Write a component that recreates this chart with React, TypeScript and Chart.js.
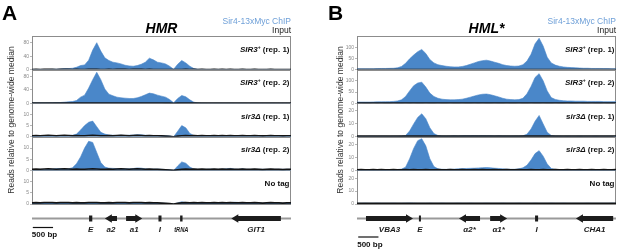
import React, { useEffect, useRef } from "react";
import { Chart, registerables } from "chart.js";

Chart.register(...registerables);

const FONT = '"Liberation Sans", Arial, Helvetica, sans-serif';
const BLUE = "#4a87c9";
const LEGEND_BLUE = "#6fa0d8";

// genomic bins (bp), 100 bp per bin
const BIN_BP = 100;
const POSITIONS_BP = Array.from({ length: 65 }, (_, i) => i * BIN_BP);

// ---------- HMR (panel A) ----------
const HMR_SIR3_REP1 = [
  0.5, 0.5, 0.6, 0.5, 0.6, 1, 1.2, 2, 3, 3, 4, 7, 12, 14, 28, 58, 80, 55, 35, 27,
  22, 20, 17, 13, 11, 10, 12, 16, 22, 34, 29, 22, 20, 17, 10, 1, 16, 27, 20, 10,
  3, 1, 0.6, 0.5, 0.5, 0.5, 0.6, 0.5, 0.5, 0.5, 0.5, 0.5, 0.6, 0.5, 0.5, 0.5, 0.5, 0.5, 0.6, 0.5,
  0.5, 0.5, 0.5, 0.5, 0.5,
];
const HMR_SIR3_REP2 = [
  1, 1, 1, 1, 1.5, 1.5, 2, 2, 3, 4, 5, 8, 18, 24, 45, 70, 92, 70, 42, 27,
  22, 18, 16, 15, 14, 14, 16, 20, 25, 30, 28, 24, 21, 18, 11, 1, 14, 23, 19, 10,
  3, 1, 0.6, 0.5, 0.5, 0.5, 0.6, 0.5, 0.5, 0.6, 0.5, 0.5, 0.6, 0.5, 0.5, 0.6, 0.5, 0.5, 0.5, 0.6,
  0.5, 0.5, 0.5, 0.5, 0.5,
];
const HMR_SIR3D_REP1 = [
  0.4, 0.4, 0.5, 0.4, 0.4, 0.5, 0.5, 0.6, 0.5, 0.6, 0.7, 1.2, 3, 5, 6.5, 7, 4.5, 2, 1.2, 0.8,
  0.7, 0.6, 0.7, 0.6, 0.7, 0.8, 0.9, 0.9, 0.7, 0.6, 0.6, 0.6, 0.5, 0.5, 0.4, 0, 2.5, 5, 4, 1.5,
  0.6, 0.5, 0.5, 0.6, 0.5, 0.5, 0.5, 0.5, 0.6, 0.5, 0.5, 0.6, 0.5, 0.5, 0.5, 0.5, 0.5, 0.6, 0.5, 0.5,
  0.5, 0.5, 0.5, 0.5, 0.5,
];
const HMR_SIR3D_REP2 = [
  0.4, 0.4, 0.5, 0.4, 0.5, 0.6, 0.8, 0.8, 0.7, 0.7, 1.2, 3, 6, 10, 13, 12.5, 8, 3.5, 1.5, 1.0,
  0.9, 0.8, 0.8, 0.7, 0.7, 0.8, 1.1, 1.0, 0.7, 0.6, 0.6, 0.6, 0.5, 0.4, 0.3, 0, 2, 3.8, 3.2, 1.5,
  0.6, 0.5, 0.5, 0.5, 0.6, 0.5, 0.5, 0.6, 0.7, 0.9, 0.6, 0.5, 0.7, 0.5, 0.5, 0.5, 0.5, 0.5, 0.5, 0.5,
  0.5, 0.5, 0.5, 0.5, 0.5,
];
const HMR_NOTAG = [
  0.4, 0.4, 0.4, 0.5, 0.4, 0.4, 0.5, 0.4, 0.4, 0.4, 0.4, 0.5, 0.5, 0.5, 0.4, 0.4, 0.4, 0.4, 0.4, 0.4,
  0.4, 0.4, 0.5, 0.4, 0.4, 0.4, 0.5, 0.4, 0.4, 0.4, 0.4, 0.4, 0.4, 0.3, 0.2, 0, 0.5, 1.0, 0.7, 0.4,
  0.4, 0.4, 0.4, 0.4, 0.4, 0.4, 0.4, 0.4, 0.5, 0.6, 0.8, 0.7, 0.5, 0.4, 0.4, 0.4, 0.4, 0.4, 0.4, 0.4,
  0.4, 0.4, 0.4, 0.4, 0.4,
];
const HMR_INPUT = [
  0.5, 0.6, 0.5, 0.6, 0.7, 0.6, 0.5, 0.6, 0.7, 0.6, 0.5, 0.6, 0.5, 0.5, 0.6, 0.7, 0.6, 0.5, 0.5, 0.6,
  0.5, 0.6, 0.7, 0.6, 0.5, 0.6, 0.7, 0.6, 0.5, 0.6, 0.5, 0.5, 0.4, 0.3, 0.2, 0, 0.3, 0.5, 0.6, 0.5,
  0.6, 0.5, 0.6, 0.5, 0.5, 0.6, 0.5, 0.6, 0.5, 0.6, 0.5, 0.5, 0.6, 0.5, 0.5, 0.6, 0.5, 0.4, 0.5, 0.6,
  0.5, 0.5, 0.4, 0.5, 0.5,
];
const HMR_MAX = [100, 100, 15, 15, 15];
const HMR_TICKS_HIGH = [0, 40, 80];
const HMR_TICKS_LOW = [0, 5, 10];
// [name, start bp, end bp, strand]
const HMR_GENES: [string, number, number, number][] = [
  ["E", 1410, 1490, 0],
  ["a2", 1800, 2100, -1],
  ["a1", 2325, 2725, 1],
  ["I", 3125, 3200, 0],
  ["tRNA", 3660, 3720, 0],
  ["GIT1", 4925, 6150, -1],
];
const HMR_SCALE_BAR = [20, 520];

// ---------- HML* (panel B) ----------
const HML_SIR3_REP1 = [
  4, 4, 4, 4, 4, 4.5, 5, 5, 5.5, 6, 8, 14, 28, 48, 65, 80, 90, 72, 45, 30,
  22, 18, 15, 13, 12, 12, 14, 18, 24, 30, 36, 40, 42, 38, 33, 28, 22, 18, 16, 15,
  16, 22, 38, 68, 115, 140, 105, 55, 30, 20, 15, 12, 10, 9, 8, 7, 6, 6, 5, 5,
  5, 4.5, 4.5, 4, 4,
];
const HML_SIR3_REP2 = [
  5, 5, 5, 5, 5.5, 6, 6, 6.5, 7, 8, 10, 15, 30, 55, 78, 90, 94, 72, 45, 30,
  22, 18, 16, 15, 15, 16, 18, 22, 27, 32, 37, 40, 41, 38, 33, 28, 22, 18, 16, 15,
  16, 22, 42, 75, 115, 132, 100, 55, 25, 17, 13, 11, 10, 10, 9, 9, 9, 8, 8, 8,
  8, 7, 7, 7, 7,
];
const HML_SIR3D_REP1 = [
  0.4, 0.5, 0.4, 0.5, 0.5, 0.4, 0.5, 0.5, 0.4, 0.5, 0.5, 0.6, 1, 4.5, 10, 15, 17.8, 14, 7, 2.5,
  1, 0.7, 0.6, 0.7, 0.8, 0.7, 0.8, 0.9, 0.8, 0.9, 0.8, 0.9, 0.8, 0.8, 0.7, 0.8, 0.7, 0.7, 0.6, 0.7,
  0.7, 0.8, 2, 6, 12, 16.5, 10, 3.5, 1, 0.7, 0.6, 0.5, 0.6, 0.5, 0.5, 0.6, 0.5, 0.5, 0.5, 0.6,
  0.5, 0.5, 0.5, 0.5, 0.5,
];
const HML_SIR3D_REP2 = [
  0.5, 0.5, 0.6, 0.5, 0.5, 0.6, 0.5, 0.5, 0.6, 0.6, 0.7, 1, 2.5, 9, 17, 23, 24.5, 19, 9, 3,
  1.2, 0.9, 0.8, 0.9, 1, 1.2, 1.4, 1.5, 1.6, 1.7, 1.9, 2.1, 2.2, 2.0, 1.7, 1.5, 1.2, 1.0, 0.9, 0.9,
  1.2, 2, 4, 8, 13, 15.3, 11, 5, 1.5, 0.8, 0.6, 0.5, 0.5, 0.6, 0.5, 0.5, 0.5, 0.6, 0.5, 0.5,
  0.5, 0.5, 0.5, 0.5, 0.5,
];
const HML_NOTAG = [
  0.6, 0.6, 0.7, 0.6, 0.6, 0.7, 0.6, 0.6, 0.6, 0.7, 0.6, 0.6, 0.7, 0.8, 0.7, 0.6, 0.6, 0.6, 0.7, 0.6,
  0.6, 0.7, 0.6, 0.6, 0.6, 0.7, 0.6, 0.6, 0.7, 0.6, 0.6, 0.6, 0.7, 0.6, 0.6, 0.6, 0.7, 0.6, 0.6, 0.6,
  0.7, 0.6, 0.6, 0.6, 0.7, 0.6, 0.6, 0.6, 0.7, 0.6, 0.6, 0.7, 0.6, 0.6, 0.6, 0.6, 0.6, 0.7, 0.6, 0.6,
  0.6, 0.6, 0.6, 0.7, 0.6,
];
const HML_INPUT = [
  0.5, 0.6, 0.5, 0.5, 0.6, 0.5, 0.6, 0.5, 0.5, 0.6, 0.5, 0.5, 0.6, 0.5, 0.6, 0.5, 0.5, 0.6, 0.5, 0.5,
  0.6, 0.5, 0.5, 0.6, 0.5, 0.5, 0.6, 0.5, 0.5, 0.6, 0.5, 0.6, 0.5, 0.5, 0.6, 0.5, 0.5, 0.6, 0.5, 0.5,
  0.6, 0.5, 0.5, 0.6, 0.5, 0.5, 0.6, 0.5, 0.5, 0.6, 0.5, 0.5, 0.6, 0.5, 0.5, 0.6, 0.5, 0.5, 0.6, 0.5,
  0.5, 0.6, 0.5, 0.5, 0.6,
];
const HML_MAX = [150, 150, 26, 26, 26];
const HML_TICKS_HIGH = [0, 50, 100];
const HML_TICKS_LOW = [0, 10, 20];
const HML_GENES: [string, number, number, number][] = [
  ["VBA3", 222, 1384, 1],
  ["E", 1530, 1580, 0],
  ["α2*", 2520, 3040, -1],
  ["α1*", 3290, 3710, 1],
  ["I", 4400, 4475, 0],
  ["CHA1", 5410, 6330, -1],
];
const HML_SCALE_BAR = [30, 530];

// ---------- text ----------
type Seg = { t: string; f: string; dy?: number };
const F_B = `bold 8px ${FONT}`;
const F_BI = `italic bold 8px ${FONT}`;
const F_SUP = `bold 5px ${FONT}`;
const TRACK_LABELS: Seg[][] = [
  [{ t: "SIR3", f: F_BI }, { t: "+", f: F_SUP, dy: -3 }, { t: " (rep. 1)", f: F_B }],
  [{ t: "SIR3", f: F_BI }, { t: "+", f: F_SUP, dy: -3 }, { t: " (rep. 2)", f: F_B }],
  [{ t: "sir3Δ", f: F_BI }, { t: " (rep. 1)", f: F_B }],
  [{ t: "sir3Δ", f: F_BI }, { t: " (rep. 2)", f: F_B }],
  [{ t: "No tag", f: F_B }],
];
// narrower rendering for some feature labels (condensed type in the original)
const LABEL_STRETCH: Record<string, number> = { tRNA: 0.72 };

interface PanelSpec {
  letter: string;
  letterX: number;
  title: string;
  chip: number[][];
  input: number[];
  maxes: number[];
  ticks: number[][];
  genes: [string, number, number, number][];
  scaleBar: number[];
  scaleBarY: number;
  scaleTextY: number;
  yTitleX: number;
  padding: { left: number; right: number; top: number; bottom: number };
  left: number;
  width: number;
}

const PANELS: PanelSpec[] = [
  {
    letter: "A",
    letterX: 2,
    title: "HMR",
    chip: [HMR_SIR3_REP1, HMR_SIR3_REP2, HMR_SIR3D_REP1, HMR_SIR3D_REP2, HMR_NOTAG],
    input: HMR_INPUT,
    maxes: HMR_MAX,
    ticks: [HMR_TICKS_HIGH, HMR_TICKS_HIGH, HMR_TICKS_LOW, HMR_TICKS_LOW, HMR_TICKS_LOW],
    genes: HMR_GENES,
    scaleBar: HMR_SCALE_BAR,
    scaleBarY: 227.5,
    scaleTextY: 237,
    yTitleX: 12,
    padding: { left: 0, right: 17, top: 36, bottom: 46 },
    left: 0,
    width: 308,
  },
  {
    letter: "B",
    letterX: 20,
    title: "HML*",
    chip: [HML_SIR3_REP1, HML_SIR3_REP2, HML_SIR3D_REP1, HML_SIR3D_REP2, HML_NOTAG],
    input: HML_INPUT,
    maxes: HML_MAX,
    ticks: [HML_TICKS_HIGH, HML_TICKS_HIGH, HML_TICKS_LOW, HML_TICKS_LOW, HML_TICKS_LOW],
    genes: HML_GENES,
    scaleBar: HML_SCALE_BAR,
    scaleBarY: 237,
    scaleTextY: 247,
    yTitleX: 33,
    padding: { left: 17, right: 1, top: 36, bottom: 46 },
    left: 308,
    width: 309,
  },
];

function drawRich(ctx: CanvasRenderingContext2D, segs: Seg[], rightX: number, y: number) {
  let total = 0;
  const widths = segs.map((s) => {
    ctx.font = s.f;
    const w = ctx.measureText(s.t).width;
    total += w;
    return w;
  });
  let x = rightX - total;
  ctx.textAlign = "left";
  ctx.textBaseline = "alphabetic";
  segs.forEach((s, i) => {
    ctx.font = s.f;
    ctx.fillText(s.t, x, y + (s.dy || 0));
    x += widths[i];
  });
}

function drawGene(ctx: CanvasRenderingContext2D, x1: number, x2: number, y: number, strand: number) {
  const bodyH = 2.5;
  const headH = 4.2;
  const headL = 7;
  ctx.beginPath();
  if (strand === 1) {
    const hx = Math.max(x1, x2 - headL);
    ctx.moveTo(x1, y - bodyH);
    ctx.lineTo(hx, y - bodyH);
    ctx.lineTo(hx, y - headH);
    ctx.lineTo(x2, y);
    ctx.lineTo(hx, y + headH);
    ctx.lineTo(hx, y + bodyH);
    ctx.lineTo(x1, y + bodyH);
    ctx.closePath();
  } else if (strand === -1) {
    const hx = Math.min(x2, x1 + headL);
    ctx.moveTo(x2, y - bodyH);
    ctx.lineTo(hx, y - bodyH);
    ctx.lineTo(hx, y - headH);
    ctx.lineTo(x1, y);
    ctx.lineTo(hx, y + headH);
    ctx.lineTo(hx, y + bodyH);
    ctx.lineTo(x2, y + bodyH);
    ctx.closePath();
  } else {
    ctx.rect(x1, y - 3, Math.max(1.3, x2 - x1), 6);
  }
  ctx.fill();
}

function makeDecor(spec: PanelSpec) {
  return {
    id: "decor",
    beforeDatasetsDraw(chart: any) {
      const ctx = chart.ctx as CanvasRenderingContext2D;
      const area = chart.chartArea;
      ctx.save();
      ctx.strokeStyle = "#8c8c8c";
      ctx.lineWidth = 1;
      spec.chip.forEach((_, i) => {
        const s = chart.scales["y" + i];
        ctx.strokeRect(area.left + 0.5, Math.round(s.top) + 0.5, area.right - area.left - 1, Math.round(s.bottom) - Math.round(s.top));
      });
      ctx.restore();
    },
    afterDraw(chart: any) {
      const ctx = chart.ctx as CanvasRenderingContext2D;
      const area = chart.chartArea;
      const xs = chart.scales.x;
      ctx.save();
      // panel letter
      ctx.fillStyle = "#000";
      ctx.font = `bold 21px ${FONT}`;
      ctx.textAlign = "left";
      ctx.textBaseline = "alphabetic";
      ctx.fillText(spec.letter, spec.letterX, 20);
      // title
      ctx.font = `italic bold 14px ${FONT}`;
      ctx.textAlign = "center";
      ctx.fillText(spec.title, (area.left + area.right) / 2, 32.5);
      // legend
      ctx.font = `8.5px ${FONT}`;
      ctx.textAlign = "right";
      ctx.fillStyle = LEGEND_BLUE;
      ctx.fillText("Sir4-13xMyc ChIP", area.right, 23.5);
      ctx.fillStyle = "#222";
      ctx.fillText("Input", area.right, 32.5);
      // track labels
      ctx.fillStyle = "#111";
      TRACK_LABELS.forEach((segs, i) => {
        const s = chart.scales["y" + i];
        drawRich(ctx, segs, area.right - 1.5, s.top + 15.5);
      });
      // y title
      ctx.save();
      ctx.translate(spec.yTitleX, (area.top + area.bottom) / 2);
      ctx.rotate(-Math.PI / 2);
      ctx.font = `8.5px ${FONT}`;
      ctx.fillStyle = "#333";
      ctx.textAlign = "center";
      ctx.textBaseline = "middle";
      ctx.fillText("Reads relative to genome-wide median", 0, 0);
      ctx.restore();
      // gene track
      const gy = 218.5;
      ctx.strokeStyle = "#9a9a9a";
      ctx.lineWidth = 2;
      ctx.beginPath();
      ctx.moveTo(area.left, gy);
      ctx.lineTo(area.right, gy);
      ctx.stroke();
      ctx.fillStyle = "#1c1c1c";
      spec.genes.forEach(([name, start, end, strand]) => {
        const x1 = xs.getPixelForValue(start);
        const x2 = xs.getPixelForValue(end);
        drawGene(ctx, x1, x2, gy, strand);
        ctx.save();
        ctx.font = `italic bold 8px ${FONT}`;
        ctx.textAlign = "center";
        ctx.textBaseline = "alphabetic";
        ctx.translate((x1 + x2) / 2, 231.5);
        ctx.scale(LABEL_STRETCH[name] || 1, 1);
        ctx.fillText(name, 0, 0);
        ctx.restore();
      });
      // scale bar
      const b1 = xs.getPixelForValue(spec.scaleBar[0]);
      const b2 = xs.getPixelForValue(spec.scaleBar[1]);
      ctx.strokeStyle = "#111";
      ctx.lineWidth = 1.2;
      ctx.beginPath();
      ctx.moveTo(b1, spec.scaleBarY);
      ctx.lineTo(b2, spec.scaleBarY);
      ctx.stroke();
      ctx.font = `bold 8px ${FONT}`;
      ctx.textAlign = "left";
      ctx.fillStyle = "#111";
      ctx.fillText("500 bp", b1 - 1, spec.scaleTextY);
      ctx.restore();
    },
  };
}

function buildConfig(spec: PanelSpec): any {
  const scales: any = {
    x: { type: "linear", min: 0, max: 6400, display: false },
  };
  const datasets: any[] = [];
  spec.chip.forEach((vals, i) => {
    const ticks = spec.ticks[i];
    scales["y" + i] = {
      type: "linear",
      position: "left",
      stack: "tracks",
      stackWeight: 1,
      weight: 10 - i,
      min: 0,
      max: spec.maxes[i],
      afterBuildTicks: (s: any) => {
        s.ticks = ticks.map((v) => ({ value: v }));
      },
      afterFit: (s: any) => {
        s.width = 32;
      },
      grid: { display: true, drawOnChartArea: false, drawTicks: true, tickLength: 2, color: "#888", lineWidth: 0.6 },
      border: { display: true, color: "#666", width: 1 },
      ticks: { font: { size: 5, family: FONT }, color: "#888", padding: 1, autoSkip: false },
    };
    datasets.push({
      type: "line",
      data: POSITIONS_BP.map((x, j) => ({ x, y: vals[j] })),
      xAxisID: "x",
      yAxisID: "y" + i,
      fill: "origin",
      backgroundColor: BLUE,
      borderColor: BLUE,
      borderWidth: 0.6,
      pointRadius: 0,
      order: 2,
    });
    datasets.push({
      type: "line",
      data: POSITIONS_BP.map((x, j) => ({ x, y: spec.input[j] })),
      xAxisID: "x",
      yAxisID: "y" + i,
      fill: false,
      borderColor: "#141414",
      borderWidth: 1.6,
      pointRadius: 0,
      order: 1,
    });
  });
  return {
    type: "line",
    data: { datasets },
    options: {
      animation: false,
      responsive: false,
      devicePixelRatio: 1,
      events: [],
      layout: { padding: spec.padding },
      plugins: { legend: { display: false }, tooltip: { enabled: false }, title: { display: false } },
      scales,
    },
    plugins: [makeDecor(spec)],
  };
}

function Panel({ spec }: { spec: PanelSpec }) {
  const ref = useRef<HTMLCanvasElement>(null);
  useEffect(() => {
    const chart = new Chart(ref.current as HTMLCanvasElement, buildConfig(spec));
    return () => chart.destroy();
  }, [spec]);
  return (
    <canvas
      ref={ref}
      width={spec.width}
      height={250}
      style={{ position: "absolute", left: spec.left, top: 0, width: spec.width, height: 250 }}
    />
  );
}

export default function App() {
  return (
    <div style={{ position: "fixed", left: 0, top: 0, width: 617, height: 250, background: "#fff" }}>
      {PANELS.map((p) => (
        <Panel key={p.letter} spec={p} />
      ))}
    </div>
  );
}
